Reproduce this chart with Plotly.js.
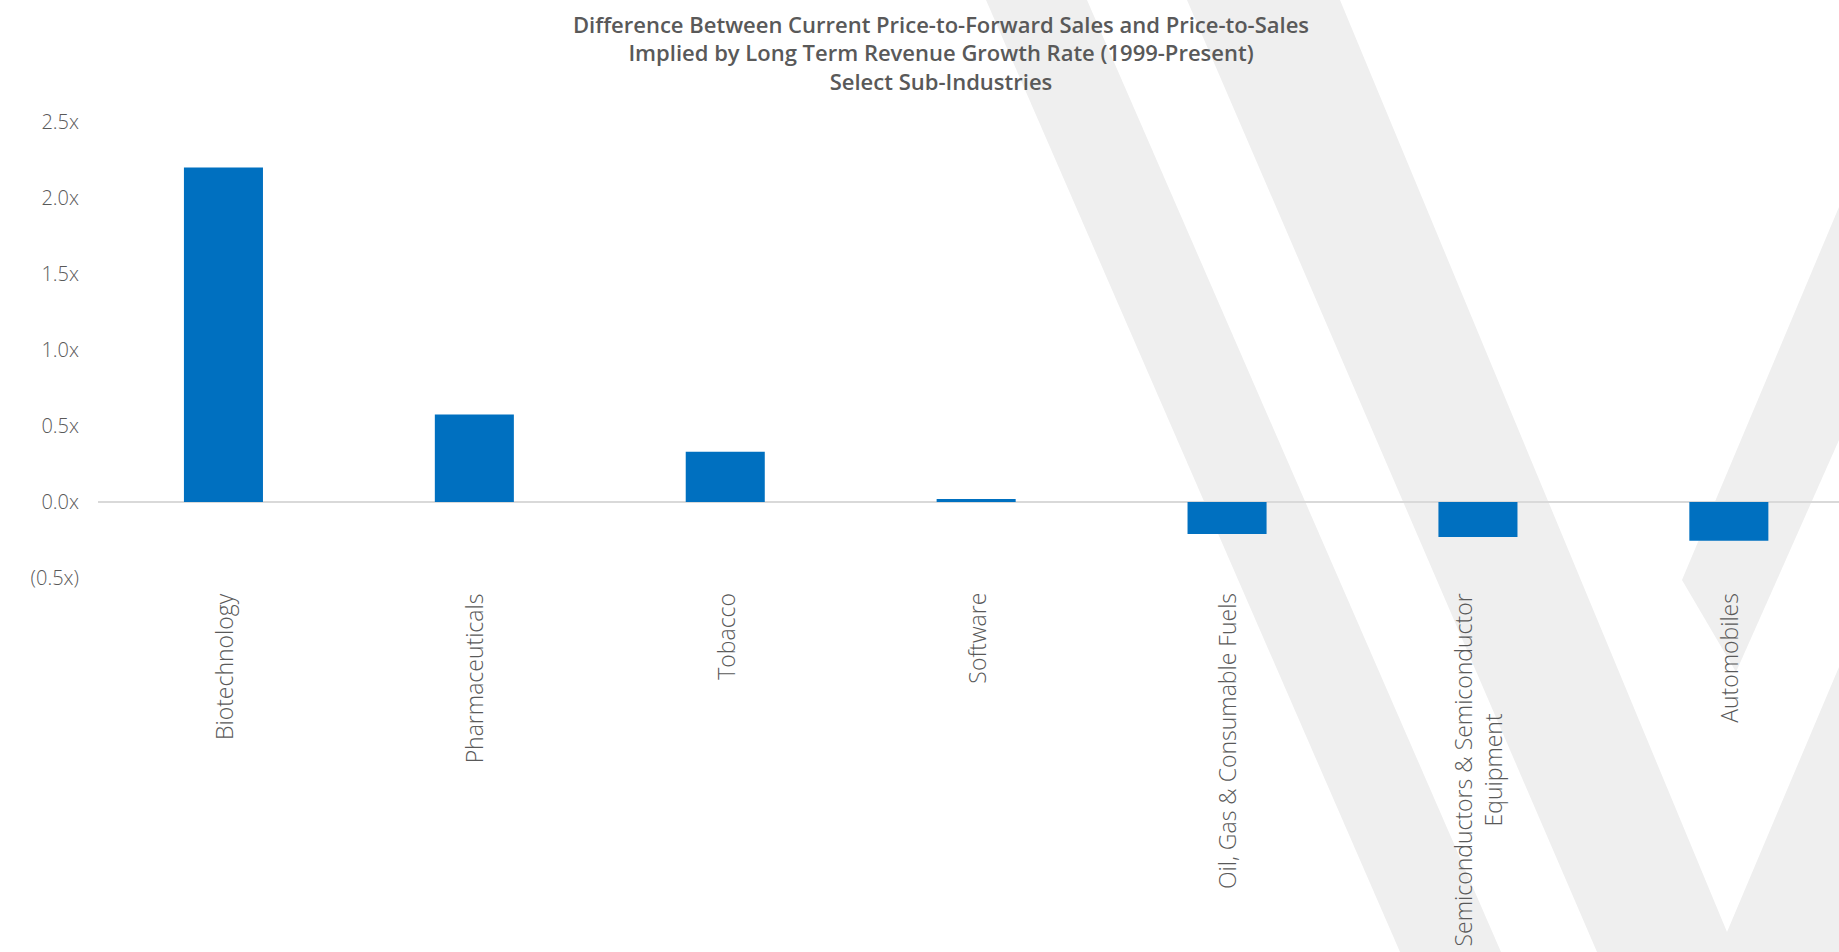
<!DOCTYPE html>
<html>
<head>
<meta charset="utf-8">
<script src="https://cdn.plot.ly/plotly-3.0.1.min.js"></script>
<style>
  html, body { margin: 0; padding: 0; background: #ffffff; }
  #chart { width: 1839px; height: 952px; }
</style>
</head>
<body>
<div id="chart"></div>
<script>
// ---- data ----
const categories = ["Biotechnology", "Pharmaceuticals", "Tobacco", "Software",
  "Oil, Gas & Consumable Fuels", "Semiconductors & Semiconductor Equipment", "Automobiles"];
const categoryLabels = ["Biotechnology", "Pharmaceuticals", "Tobacco", "Software",
  "Oil, Gas & Consumable Fuels", "Semiconductors & Semiconductor<br>Equipment", "Automobiles"];
const values = [2.20, 0.575, 0.33, 0.02, -0.21, -0.23, -0.255];
const yTickValues = [-0.5, 0, 0.5, 1.0, 1.5, 2.0, 2.5];
const yTickLabels = ["(0.5x)", "0.0x", "0.5x", "1.0x", "1.5x", "2.0x", "2.5x"];
const titleLines = ["Difference Between Current Price-to-Forward Sales and Price-to-Sales",
  "Implied by Long Term Revenue Growth Rate (1999-Present)",
  "Select Sub-Industries"];

// ---- layout constants ----
const W = 1839, H = 952;
const M = { l: 98, r: 0, t: 122, b: 374 };
const PW = W - M.l - M.r, PH = H - M.t - M.b;
const toPX = x => (x - M.l) / PW;
const toPY = y => (H - M.b - y) / PH;
const TEXT = "#595959";
const FONT = "Open Sans, Lato, sans-serif";

// decorative background watermark (pixel outlines)
const watermark = [
  [[986, 0], [1087, 0], [1501, 952], [1400, 952]],
  [[1187, 0], [1340, 0], [1727, 932], [1839, 667], [1839, 952], [1597, 952]],
  [[1682, 580], [1839, 207], [1839, 440], [1736, 672]]
];
const shapes = watermark.map(poly => ({
  type: "path",
  xref: "paper", yref: "paper",
  path: "M " + poly.map(p => toPX(p[0]).toFixed(5) + "," + toPY(p[1]).toFixed(5)).join(" L ") + " Z",
  fillcolor: "#efefef",
  line: { width: 0 },
  layer: "below"
}));

const annotations = categories.map((c, i) => ({
  x: c, xref: "x",
  y: toPY(591), yref: "paper",
  text: categoryLabels[i],
  textangle: -90,
  xanchor: "center", yanchor: "top",
  align: "center",
  showarrow: false,
  font: { family: FONT, size: 23, color: TEXT, weight: 300 }
}));

const trace = {
  type: "bar",
  x: categories,
  y: values,
  marker: { color: "#0070C0", line: { width: 0 } },
  hoverinfo: "skip"
};

const layout = {
  width: W, height: H,
  margin: M,
  paper_bgcolor: "#ffffff",
  plot_bgcolor: "rgba(0,0,0,0)",
  showlegend: false,
  bargap: 0.685,
  title: {
    text: titleLines.join("<br>"),
    x: 941 / W, xref: "container", xanchor: "center",
    y: 1 - 32.5 / H, yref: "container", yanchor: "top",
    font: { family: FONT, size: 22, color: TEXT, weight: 600 }
  },
  xaxis: {
    type: "category",
    range: [-0.5, -0.5 + PW / 250.9],
    showticklabels: false, showgrid: false, zeroline: false, showline: false, ticks: "",
    fixedrange: true
  },
  yaxis: {
    range: [-0.5, 2.5],
    tickvals: yTickValues, ticktext: yTickLabels,
    showgrid: false, showline: false, ticks: "",
    zeroline: true, zerolinecolor: "#d9d9d9", zerolinewidth: 2,
    ticklabelstandoff: 18,
    tickfont: { family: FONT, size: 20, color: TEXT, weight: 300 },
    fixedrange: true
  },
  shapes: shapes,
  annotations: annotations
};

Plotly.newPlot("chart", [trace], layout, { displayModeBar: false, staticPlot: true });
</script>
</body>
</html>
